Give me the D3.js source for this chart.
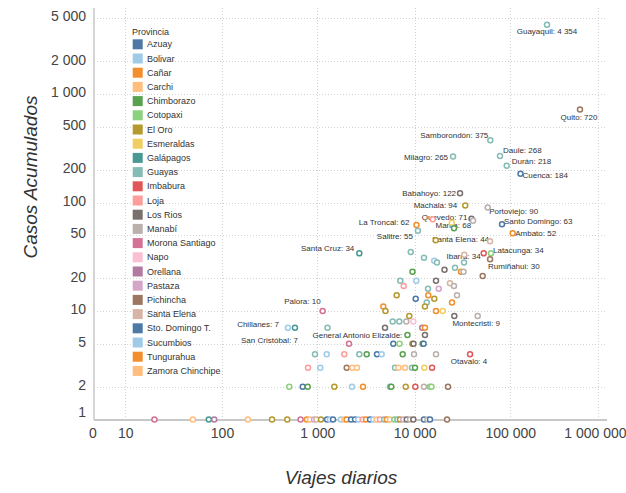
<!DOCTYPE html>
<html>
<head>
<meta charset="utf-8">
<script src="https://cdn.jsdelivr.net/npm/d3@7"></script>
<style>
  html, body { margin: 0; padding: 0; background: #fff; }
  svg { display: block; font-family: "Liberation Sans", Arial, sans-serif; }
</style>
</head>
<body>
<svg id="chart" width="626" height="493"></svg>
<script>
// Provinces and their colours (Tableau 20 order, cycling after 20)
const provincias = ["Azuay", "Bolivar", "Cañar", "Carchi", "Chimborazo", "Cotopaxi", "El Oro",
  "Esmeraldas", "Galápagos", "Guayas", "Imbabura", "Loja", "Los Rios", "Manabí",
  "Morona Santiago", "Napo", "Orellana", "Pastaza", "Pichincha", "Santa Elena",
  "Sto. Domingo T.", "Sucumbios", "Tungurahua", "Zamora Chinchipe"];
const paleta = ["#4e79a7", "#a0cbe8", "#f28e2b", "#ffbe7d", "#59a14f", "#8cd17d", "#b6992d",
  "#f1ce63", "#499894", "#86bcb6", "#e15759", "#ff9d9a", "#79706e", "#bab0ac",
  "#d37295", "#fabfd2", "#b07aa1", "#d4a6c8", "#9d7660", "#d7b5a6",
  "#4e79a7", "#a0cbe8", "#f28e2b", "#ffbe7d"];

const xTicks = [10, 100, 1000, 10000, 100000, 1000000];
const yTicks = [1, 2, 5, 10, 20, 50, 100, 200, 500, 1000, 2000, 5000];

// One entry per canton: daily trips, accumulated cases, province, label
const viajes = [
  262000, 623000, 61800, 78000, 25200, 91700, 130700, 29800, 33800, 58000,
  39300, 15430, 40800, 24400, 81900, 10440, 25770, 10800, 106500, 16600,
  61400, 9110, 52700, 62800, 2700, 33000, 12500, 61400, 16000, 17100,
  32800, 26400, 20500, 9490, 30500, 32400, 51400, 7110, 10390, 16700,
  23400, 7710, 25760, 13780, 17830, 6530, 13870, 27700, 10240, 16030,
  13370, 24550, 4760, 12800, 1135, 5010, 16700, 19630, 8800, 25960,
  45600, 5940, 6950, 8200, 9680, 492, 583, 1273, 4955, 12000,
  12800, 8430, 12800, 2115, 6030, 6980, 9480, 9720, 12100, 12400,
  946, 1249, 1893, 2700, 3215, 4100, 4580, 7530, 9840, 16700, 37900,
  799, 1074, 2004, 2290, 2556, 6280, 6820, 7950, 9380, 10070, 12600, 15200,
  508, 703, 793, 1495, 2270, 2945, 5575, 5750, 8090, 10150, 12500, 14450, 15000, 22300,
  20, 50, 73, 83, 187, 335, 484, 667, 776, 837,
  923, 977, 1090, 1259, 1350, 1450, 1750, 1900, 2000, 2220,
  2440, 2640, 2925, 3160, 3480, 3760, 4070, 4400, 4840, 5160,
  5570, 6170, 6630, 7060, 7640, 8280, 8950, 9680, 12500, 13600,
  14450, 21800
];
const casos = [
  4354, 720, 375, 268, 265, 218, 184, 122, 94, 90,
  71, 70, 68, 65, 63, 62, 58, 55, 52, 45,
  44, 35, 34, 34, 34, 33, 31, 30, 29, 28,
  28, 25, 24, 23, 23, 23, 21, 19, 19, 19,
  18, 17, 17, 16, 16, 14, 14, 14, 13, 13,
  12, 12, 11, 11, 10, 10, 10, 10, 9, 9,
  9, 8, 8, 8, 8, 7, 7, 7, 7, 7,
  7, 6, 6, 5, 5, 5, 5, 5, 5, 5,
  4, 4, 4, 4, 4, 4, 4, 4, 4, 4, 4,
  3, 3, 3, 3, 3, 3, 3, 3, 3, 3, 3, 3,
  2, 2, 2, 2, 2, 2, 2, 2, 2, 2, 2, 2, 2, 2,
  1, 1, 1, 1, 1, 1, 1, 1, 1, 1,
  1, 1, 1, 1, 1, 1, 1, 1, 1, 1,
  1, 1, 1, 1, 1, 1, 1, 1, 1, 1,
  1, 1, 1, 1, 1, 1, 1, 1, 1, 1,
  1, 1
];
const provincia = [
  "Guayas", "Pichincha", "Guayas", "Guayas", "Guayas", "Guayas", "Azuay", "Los Rios", "El Oro", "Manabí",
  "Los Rios", "Loja", "Manabí", "Esmeraldas", "Sto. Domingo T.", "Cañar", "Chimborazo", "Guayas", "Tungurahua", "El Oro",
  "Santa Elena", "Guayas", "Imbabura", "Cotopaxi", "Galápagos", "Santa Elena", "Guayas", "Pichincha", "Bolivar", "Guayas",
  "Guayas", "Guayas", "Los Rios", "Chimborazo", "Cañar", "Manabí", "Pichincha", "Guayas", "Bolivar", "Los Rios",
  "Santa Elena", "Loja", "Manabí", "Guayas", "Pastaza", "El Oro", "Cañar", "Manabí", "Azuay", "El Oro",
  "Guayas", "Tungurahua", "Cañar", "El Oro", "Morona Santiago", "El Oro", "Tungurahua", "Esmeraldas", "El Oro", "Los Rios",
  "Manabí", "Guayas", "Guayas", "Manabí", "Napo", "Bolivar", "Galápagos", "Guayas", "Los Rios", "Orellana",
  "Cañar", "Chimborazo", "Los Rios", "Morona Santiago", "Azuay", "Cotopaxi", "El Oro", "Los Rios", "Chimborazo", "Sto. Domingo T.",
  "Guayas", "Bolivar", "Loja", "Guayas", "Chimborazo", "Azuay", "Bolivar", "Chimborazo", "Manabí", "Manabí", "Imbabura",
  "Loja", "Bolivar", "Pichincha", "Carchi", "Zamora Chinchipe", "Guayas", "Carchi", "Carchi", "Guayas", "Chimborazo", "Esmeraldas", "Imbabura",
  "Cotopaxi", "Azuay", "Chimborazo", "El Oro", "Bolivar", "Cañar", "Guayas", "Chimborazo", "El Oro", "Imbabura", "Manabí", "Cotopaxi", "Cotopaxi", "Pichincha",
  "Morona Santiago", "Zamora Chinchipe", "Galápagos", "Orellana", "Carchi", "El Oro", "El Oro", "Morona Santiago", "Cañar", "Carchi",
  "Pastaza", "Santa Elena", "El Oro", "Azuay", "Bolivar", "Azuay", "Sucumbios", "Carchi", "Cañar", "Azuay",
  "Azuay", "Bolivar", "Loja", "Tungurahua", "Azuay", "Sucumbios", "Zamora Chinchipe", "Loja", "Guayas", "Tungurahua",
  "Zamora Chinchipe", "Cotopaxi", "Guayas", "El Oro", "Pastaza", "Los Rios", "Manabí", "Los Rios", "Azuay", "Manabí",
  "Sto. Domingo T.", "Pichincha"
];
const canton = [
  "Guayaquil", "Quito", "Samborondón", "Daule", "Milagro", "Durán", "Cuenca", "Babahoyo", "Machala", "Portoviejo",
  "Quevedo", "", "Manta", "", "Santo Domingo", "La Troncal", "", "Salitre", "Ambato", "",
  "Santa Elena", "", "Ibarra", "Latacunga", "Santa Cruz", "", "", "Rumiñahui", "", "",
  "", "", "", "", "", "", "", "", "", "",
  "", "", "", "", "", "", "", "", "", "",
  "", "", "", "", "Palora", "", "", "", "", "",
  "Montecristi", "", "", "", "", "Chillanes", "San Cristóbal", "General Antonio Elizalde", "", "",
  "", "", "", "", "", "", "", "", "", "",
  "", "", "", "", "", "", "", "", "", "", "Otavalo"
];

// Label placement: text-anchor, dx, dy (offset of the text centre from the mark)
const etiquetaPos = {
  "Guayaquil": ["middle", 0, 7], "Quito": ["middle", -1, 8],
  "Samborondón": ["end", -2, -5], "Milagro": ["end", -5, 1], "Daule": ["start", 3, -6],
  "Durán": ["start", 5, -5], "Cuenca": ["start", 2, 1], "Babahoyo": ["end", -4, 0],
  "Machala": ["end", -8, 0], "Portoviejo": ["start", 1.5, 3.5], "Quevedo": ["end", -4, -1],
  "Manta": ["end", -2, 5], "La Troncal": ["end", -7, -2.5], "Salitre": ["end", -5, 6],
  "Santo Domingo": ["start", 2, -3], "Ambato": ["start", 2.5, 0], "Santa Elena": ["end", -1, -1.5],
  "Ibarra": ["end", -3, 2.5], "Latacunga": ["start", 2, -3.5], "Rumiñahui": ["start", -2, 7],
  "Santa Cruz": ["end", -5, -5], "Palora": ["end", -2, -9.5], "Chillanes": ["end", -9, -3.4],
  "San Cristóbal": ["end", 3, 12.6], "General Antonio Elizalde": ["start", -15, 7],
  "Montecristi": ["middle", -1.5, 7.3], "Otavalo": ["middle", -1, 7]
};

const fmt = d3.formatLocale({ decimal: ",", thousands: " ", grouping: [3], currency: ["", ""] }).format(",");

const svg = d3.select("#chart");
const plot = { left: 94, right: 607, top: 8, bottom: 420 };

// Log scales (x is piecewise per decade)
const x = d3.scaleLog()
  .domain(xTicks)
  .range([125.3, 222, 317.3, 414.7, 510.3, 598]);
const y = d3.scaleLog()
  .domain([1, 10000])
  .range([419.5, 419.5 - 4 * 108.5]);

const colour = d3.scaleOrdinal().domain(provincias).range(paleta);

// Grid
const grid = svg.append("g").attr("stroke", "#d2d2d2").attr("stroke-width", 1)
  .attr("stroke-dasharray", "1,2").attr("fill", "none");
grid.selectAll("line.h").data(yTicks.filter(d => d > 1)).join("line")
  .attr("x1", plot.left).attr("x2", plot.right)
  .attr("y1", d => Math.round(y(d)) + 0.5).attr("y2", d => Math.round(y(d)) + 0.5);
grid.selectAll("line.v").data(xTicks).join("line")
  .attr("y1", plot.top).attr("y2", plot.bottom)
  .attr("x1", d => Math.round(x(d)) + 0.5).attr("x2", d => Math.round(x(d)) + 0.5);

// Axis lines
svg.append("line").attr("x1", plot.left).attr("x2", plot.left)
  .attr("y1", plot.top).attr("y2", plot.bottom)
  .attr("stroke", "#c8c8c8").attr("stroke-width", 1.5);
svg.append("line").attr("x1", plot.left).attr("x2", plot.right)
  .attr("y1", plot.bottom).attr("y2", plot.bottom)
  .attr("stroke", "#c8c8c8").attr("stroke-width", 2);

// Y axis labels
const yAxis = svg.append("g").attr("transform", `translate(${plot.left},0)`)
  .call(d3.axisLeft(y).tickValues(yTicks).tickFormat(fmt).tickSize(0).tickPadding(8));
yAxis.select(".domain").remove();
yAxis.selectAll("text").attr("font-size", 14).attr("fill", "#444")
  .attr("font-family", "Liberation Sans, Arial, sans-serif")
  .attr("dy", d => d === 1 ? "-0.2em" : "0.2em");

// X axis labels (the last one is nudged so it stays inside the page)
const xAxis = svg.append("g").attr("transform", `translate(0,${plot.bottom})`)
  .call(d3.axisBottom(x).tickValues(xTicks).tickFormat(fmt).tickSize(0).tickPadding(8));
xAxis.select(".domain").remove();
xAxis.selectAll("text").attr("font-size", 14).attr("fill", "#444")
  .attr("font-family", "Liberation Sans, Arial, sans-serif")
  .attr("dx", d => d === 1000000 ? -3 : 0);
svg.append("text").attr("x", plot.left - 1).attr("y", plot.bottom + 8).attr("dy", "0.71em")
  .attr("text-anchor", "middle").attr("font-size", 14).attr("fill", "#444").text("0");

// Axis titles
svg.append("text").attr("transform", "translate(37,177) rotate(-90)")
  .attr("text-anchor", "middle").attr("font-size", 19).attr("font-style", "italic")
  .attr("fill", "#333").text("Casos Acumulados");
svg.append("text").attr("x", 341).attr("y", 484)
  .attr("text-anchor", "middle").attr("font-size", 19).attr("font-style", "italic")
  .attr("fill", "#333").text("Viajes diarios");

// Legend
const legend = svg.append("g").attr("transform", "translate(132,0)");
legend.append("text").attr("x", 0).attr("y", 32.3).attr("dy", "0.35em")
  .attr("font-size", 9).attr("fill", "#333").text("Provincia");
const item = legend.selectAll("g.item").data(provincias).join("g")
  .attr("transform", (d, i) => `translate(0,${44.3 + i * 14.2})`);
item.append("rect").attr("x", 0.7).attr("y", -5).attr("width", 10).attr("height", 10)
  .attr("fill", d => colour(d));
item.append("text").attr("x", 15).attr("dy", "0.35em").attr("font-size", 9)
  .attr("fill", "#333").text(d => d);

// Data
const datos = viajes.map((v, i) => ({
  v, c: casos[i], p: provincia[i], n: canton[i] || ""
}));

// Mark labels
const labelled = datos.filter(d => d.n);
svg.append("g").selectAll("text").data(labelled).join("text")
  .attr("x", d => x(d.v) + etiquetaPos[d.n][1])
  .attr("y", d => y(d.c) + etiquetaPos[d.n][2])
  .attr("dy", "0.35em")
  .attr("text-anchor", d => etiquetaPos[d.n][0])
  .attr("font-size", 8).attr("fill", "#333")
  .text(d => `${d.n}: ${fmt(d.c)}`);

// Marks
svg.append("g").selectAll("circle").data(datos).join("circle")
  .attr("cx", d => x(d.v)).attr("cy", d => y(d.c)).attr("r", 2.5)
  .attr("fill", "#fff").attr("stroke", d => colour(d.p)).attr("stroke-width", 1.5);
</script>
</body>
</html>
